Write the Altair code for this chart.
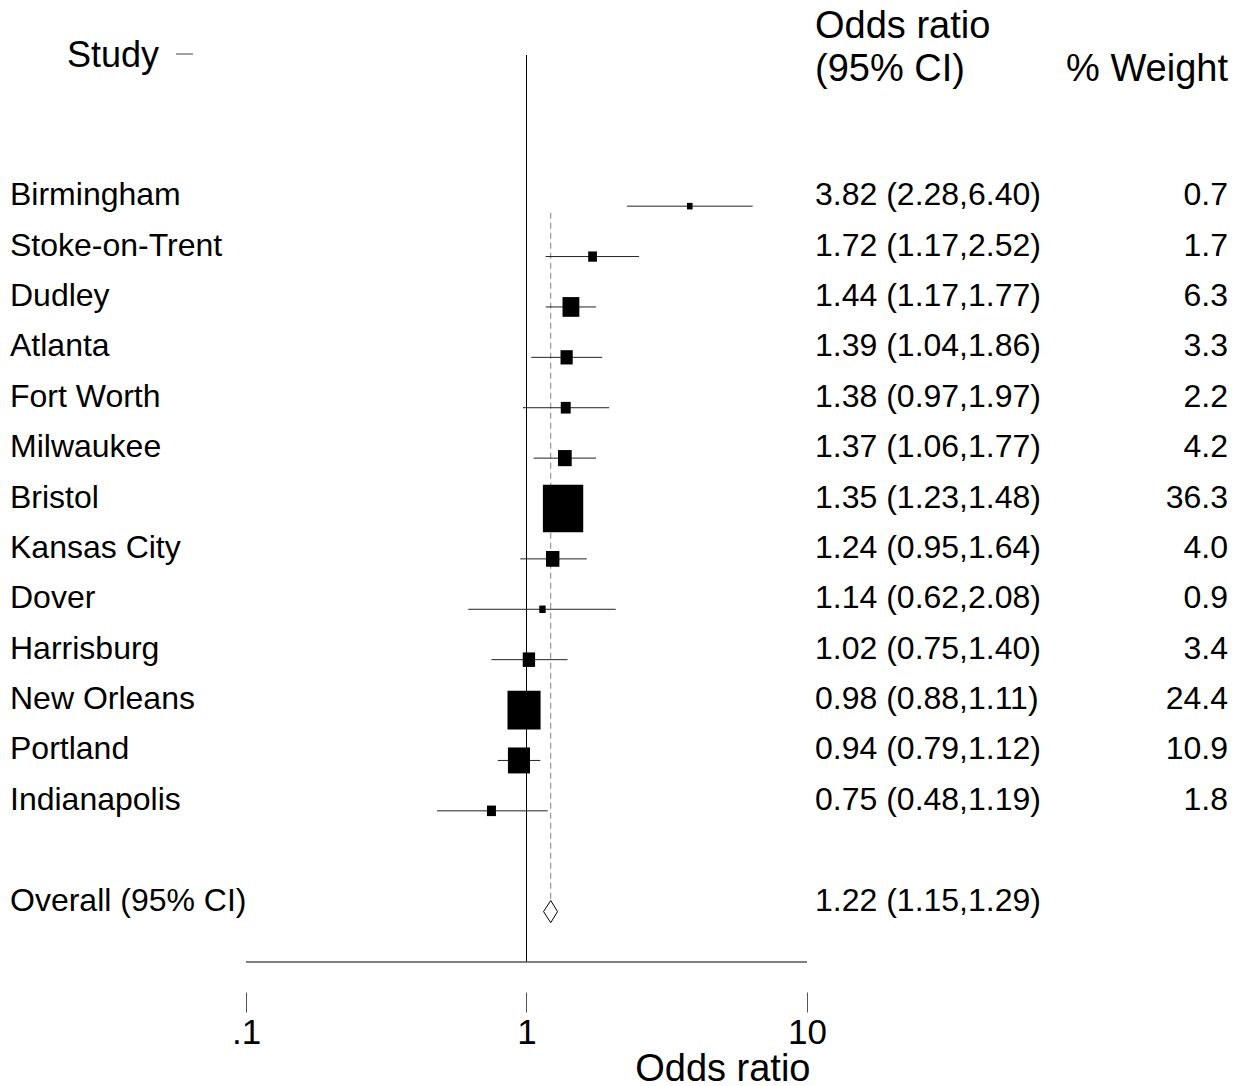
import altair as alt
import pandas as pd

# ---------------- data ----------------
studies = ["Birmingham", "Stoke-on-Trent", "Dudley", "Atlanta", "Fort Worth",
           "Milwaukee", "Bristol", "Kansas City", "Dover", "Harrisburg",
           "New Orleans", "Portland", "Indianapolis"]
odds_ratio = [3.82, 1.72, 1.44, 1.39, 1.38, 1.37, 1.35, 1.24, 1.14, 1.02, 0.98, 0.94, 0.75]
ci_low = [2.28, 1.17, 1.17, 1.04, 0.97, 1.06, 1.23, 0.95, 0.62, 0.75, 0.88, 0.79, 0.48]
ci_high = [6.40, 2.52, 1.77, 1.86, 1.97, 1.77, 1.48, 1.64, 2.08, 1.40, 1.11, 1.12, 1.19]
weights = [0.7, 1.7, 6.3, 3.3, 2.2, 4.2, 36.3, 4.0, 0.9, 3.4, 24.4, 10.9, 1.8]

overall_label = "Overall (95% CI)"
overall_or = 1.22
overall_low = 1.15
overall_high = 1.29

x_ticks = [0.1, 1, 10]
x_tick_labels = [".1", "1", "10"]

# ---------------- layout / style ----------------
FONT = "Liberation Sans"
W, H = 561, 907
ROW_FS = 32
HEAD_FS = 38
BOX_K = 53  # box area (px^2) per % weight
BOX_PATH = "M-0.92,-1.08L0.92,-1.08L0.92,1.08L-0.92,1.08Z"

n = len(studies)
rows = list(range(n))
overall_row = n + 1

df = pd.DataFrame({
    "study": studies,
    "row": rows,
    "or": odds_ratio,
    "lo": ci_low,
    "hi": ci_high,
    "w": weights,
})
df["or_text"] = [f"{o:.2f} ({l:.2f},{h:.2f})" for o, l, h in zip(odds_ratio, ci_low, ci_high)]
df["w_text"] = [f"{w:.1f}" for w in weights]
df["sz"] = df["w"] * BOX_K

ov = pd.DataFrame({
    "study": [overall_label],
    "row": [overall_row],
    "or_text": [f"{overall_or:.2f} ({overall_low:.2f},{overall_high:.2f})"],
})

half_h = 0.22
diamond = pd.DataFrame({
    "x": [overall_low, overall_or, overall_high, overall_or, overall_low],
    "y": [overall_row, overall_row - half_h, overall_row, overall_row + half_h, overall_row],
    "o": [0, 1, 2, 3, 4],
})

label_expr = ""
for v, l in zip(x_ticks, x_tick_labels):
    label_expr += f"abs(datum.value - {v}) < {v * 0.01} ? '{l}' : "
label_expr += "datum.label"

xscale = alt.Scale(type="log", domain=[x_ticks[0], x_ticks[-1]], nice=False)
yscale = alt.Scale(domain=[-3, 15], reverse=True, nice=False, zero=False)

xaxis = alt.Axis(
    values=x_ticks, labelExpr=label_expr, title="Odds ratio",
    domain=False, grid=False, offset=30, tickSize=20, tickColor="#555", tickWidth=1,
    labelFont=FONT, labelFontSize=35, labelColor="black", labelPadding=3,
    labelFlush=False, labelOverlap=False,
    titleFont=FONT, titleFontSize=38, titleFontWeight="normal", titleColor="black",
    titleX=564, titleY=88, titleAlign="right", titleBaseline="alphabetic",
)


def X(field):
    return alt.X(field, type="quantitative", scale=xscale, axis=xaxis)


def Y(field):
    return alt.Y(field, type="quantitative", scale=yscale, axis=None)


base = alt.Chart(df)

null_line = alt.Chart(pd.DataFrame({"x": [1]})).mark_rule(color="black", strokeWidth=1).encode(
    x=X("x"), y=alt.value(0), y2=alt.value(H))

bottom_line = alt.Chart(pd.DataFrame({"a": [x_ticks[0]], "b": [x_ticks[-1]]})).mark_rule(
    color="#555", strokeWidth=1.5).encode(x=X("a"), x2="b", y=alt.value(H))

overall_line = alt.Chart(pd.DataFrame({"x": [overall_or], "y1": [0.13],
                                       "y2": [overall_row - half_h]})).mark_rule(
    color="#808080", strokeWidth=1, strokeDash=[6, 4]).encode(x=X("x"), y=Y("y1"), y2="y2")

ci_lines = base.mark_rule(color="#222", strokeWidth=1).encode(x=X("lo"), x2="hi", y=Y("row"))

boxes = base.mark_point(shape=BOX_PATH, filled=True, color="black", opacity=1,
                        strokeWidth=0).encode(
    x=X("or"), y=Y("row"), size=alt.Size("sz:Q", scale=None))

diamond_line = alt.Chart(diamond).mark_line(color="black", strokeWidth=1).encode(
    x=X("x"), y=Y("y"), order="o:Q")

text_kw = dict(font=FONT, fontSize=ROW_FS, color="black", baseline="alphabetic", dy=-1)

study_text = base.mark_text(align="left", **text_kw).encode(
    text="study", x=alt.value(10 - 246), y=Y("row"))
or_text = base.mark_text(align="left", **text_kw).encode(
    text="or_text", x=alt.value(815 - 246), y=Y("row"))
w_text = base.mark_text(align="right", **text_kw).encode(
    text="w_text", x=alt.value(1228 - 246), y=Y("row"))

ov_study = alt.Chart(ov).mark_text(align="left", **text_kw).encode(
    text="study", x=alt.value(10 - 246), y=Y("row"))
ov_or = alt.Chart(ov).mark_text(align="left", **text_kw).encode(
    text="or_text", x=alt.value(815 - 246), y=Y("row"))


def header(txt, px, py, align="left", fs=HEAD_FS):
    return alt.Chart(pd.DataFrame({"t": [txt]})).mark_text(
        align=align, font=FONT, fontSize=fs, color="black", baseline="alphabetic").encode(
        text="t", x=alt.value(px - 246), y=alt.value(py - 55))


h_study = header("Study", 67, 67, fs=36)
h_or1 = header("Odds ratio", 815, 38)
h_or2 = header("(95% CI)", 815, 81)
h_w = header("% Weight", 1228, 81, align="right")

study_tick = alt.Chart(pd.DataFrame({"a": [0]})).mark_rule(color="#444", strokeWidth=1).encode(
    x=alt.value(176 - 246), x2=alt.value(193 - 246), y=alt.value(54 - 55))

chart = alt.layer(
    null_line, bottom_line, overall_line, ci_lines, boxes, diamond_line,
    study_text, or_text, w_text, ov_study, ov_or,
    h_study, h_or1, h_or2, h_w, study_tick,
).properties(
    width=W, height=H,
    autosize=alt.AutoSizeParams(type="none"),
    padding={"left": 238, "top": 47, "right": 425, "bottom": 120},
).configure_view(stroke=None)

chart.save("out.html", embed_options={"renderer": "svg", "actions": False})
